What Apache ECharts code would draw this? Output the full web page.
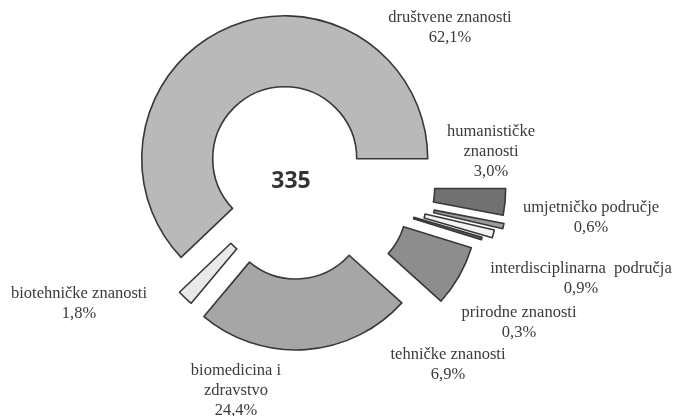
<!DOCTYPE html>
<html>
<head>
<meta charset="utf-8">
<script src="https://cdn.jsdelivr.net/npm/echarts@6/dist/echarts.min.js"></script>
<style>
  html, body { margin: 0; padding: 0; background: #ffffff; }
  #chart { width: 679px; height: 416px; }
</style>
</head>
<body>
<div id="chart"></div>
<script>
// Research fields (clockwise from the lower left), share of projects in %
const categories = [
  'društvene znanosti',
  'humanističke\nznanosti',
  'umjetničko područje',
  'interdisciplinarna  područja',
  'prirodne znanosti',
  'tehničke znanosti',
  'biomedicina i\nzdravstvo',
  'biotehničke znanosti'
];
const shares = [62.1, 3.0, 0.6, 0.9, 0.3, 6.9, 24.4, 1.8];
const totalCount = 335;

// ---- presentation ----
const CENTER = [294, 182];
const RADIUS = [72, 143];
const fills = ['#b9b9b9', '#717171', '#9c9c9c', '#f3f3f3', '#5f5f5f', '#8d8d8d', '#a6a6a6', '#e9e9e9'];
// how far each ring piece is pulled away from the centre
const pullOut = [25, 69, 71, 63, 53, 47, 25, 16];
// centre point of each label block
const labelAnchor = [
  [450, 28], [491, 152], [591, 218], [581, 279],
  [519, 323], [448, 365], [236, 391], [79, 304]
];
const LABEL_FONT = '16.5px "Liberation Serif", "DejaVu Serif", serif';

const sum = shares.reduce((a, b) => a + b, 0);
// the first field closes exactly at 3 o'clock
const startAngle = shares[0] / sum * 360;

const fmt = v => v.toFixed(1).replace('.', ',') + '%';

// one pie layer per field so every piece can have its own pull-out distance
const series = categories.map((_, k) => ({
  type: 'pie',
  center: CENTER,
  radius: RADIUS,
  startAngle: startAngle,
  clockwise: true,
  silent: true,
  animation: false,
  avoidLabelOverlap: false,
  selectedMode: 'multiple',
  selectedOffset: pullOut[k],
  emphasis: { disabled: true },
  label: { show: false },
  labelLine: { show: false },
  data: categories.map((name, i) => ({
    name: name,
    value: shares[i],
    selected: i === k,
    itemStyle: i === k
      ? { color: fills[k], borderColor: '#383838', borderWidth: 1.6 }
      : { color: 'rgba(0,0,0,0)', borderWidth: 0 }
  }))
}));

// field name and share written next to each piece
const labelTexts = categories.map((name, i) => ({
  type: 'text',
  x: labelAnchor[i][0],
  y: labelAnchor[i][1],
  silent: true,
  style: {
    text: name + '\n' + fmt(shares[i]),
    font: LABEL_FONT,
    lineHeight: 20,
    fill: '#3a3a3a',
    textAlign: 'center',
    textVerticalAlign: 'middle'
  }
}));

const chart = echarts.init(document.getElementById('chart'), null, { renderer: 'canvas' });
chart.setOption({
  backgroundColor: '#ffffff',
  animation: false,
  graphic: [{
    type: 'text',
    x: 291,
    y: 181,
    silent: true,
    style: {
      text: String(totalCount),
      font: 'bold 23px "Open Sans", "Liberation Sans", sans-serif',
      fill: '#333333',
      textAlign: 'center',
      textVerticalAlign: 'middle'
    }
  }].concat(labelTexts),
  series: series
});
</script>
</body>
</html>
